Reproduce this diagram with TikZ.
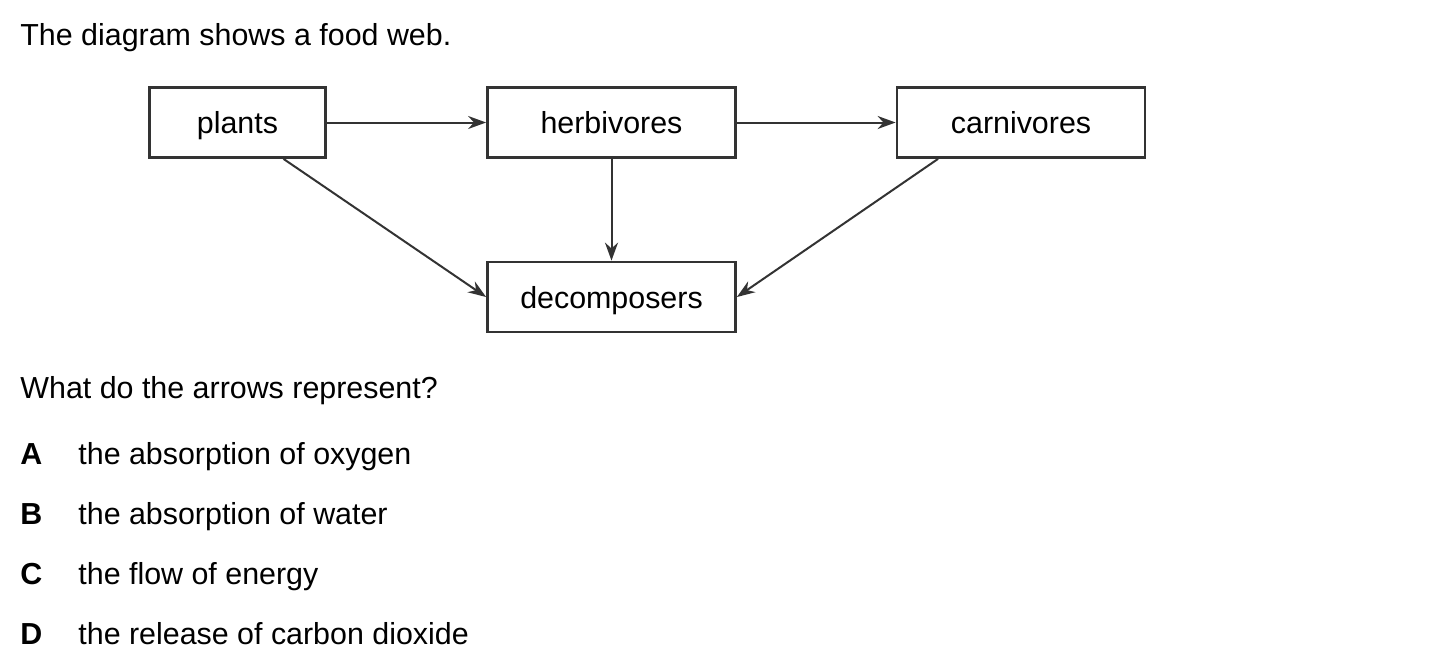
\documentclass[tikz,border=0pt]{standalone}
\usepackage{fontspec}
\setmainfont{Liberation Sans}
\usetikzlibrary{arrows.meta}

\begin{document}
\begin{tikzpicture}[x=0.5pt, y=-0.5pt, font=\fontsize{15.2}{18}\selectfont]
    \tikzstyle{web box} = [rectangle,draw=black!80,line width=1.4pt,inner sep=0pt,minimum width=124pt,minimum height=35pt,text height=11pt,text depth=0pt]
    \tikzstyle{web arrow} = [draw=black!80,line width=1pt,-{Stealth[length=9pt,width=6.5pt]}]
    \tikzstyle{question text} = [anchor=base west,inner sep=0pt]
\useasboundingbox (0,0) rectangle (1433,671);
\node[question text] (intro) at (20,45) {The diagram shows a food web.};
\node[web box, minimum width=88pt] (plants) at (237.5,122.5) {plants};
\node[web box] (herbivores) at (611.5,122.5) {herbivores};
\node[web box] (carnivores) at (1021,122.5) {carnivores};
\node[web box] (decomposers) at (611.5,297) {decomposers};
\draw[web arrow] (plants) to (herbivores);
\draw[web arrow] (herbivores) to (carnivores);
\draw[web arrow] (herbivores) to (decomposers);
\draw[web arrow] ([xshift=23pt]plants.south) to (decomposers.west);
\draw[web arrow] ([xshift=-41.5pt]carnivores.south) to (decomposers.east);
\node[question text] (question) at (20,398) {What do the arrows represent?};
\node[question text] (keyA) at (20,464) {\bfseries A};
\node[question text] (optA) at (78,464) {the absorption of oxygen};
\node[question text] (keyB) at (20,524) {\bfseries B};
\node[question text] (optB) at (78,524) {the absorption of water};
\node[question text] (keyC) at (20,584) {\bfseries C};
\node[question text] (optC) at (78,584) {the flow of energy};
\node[question text] (keyD) at (20,644) {\bfseries D};
\node[question text] (optD) at (78,644) {the release of carbon dioxide};
\end{tikzpicture}
\end{document}
